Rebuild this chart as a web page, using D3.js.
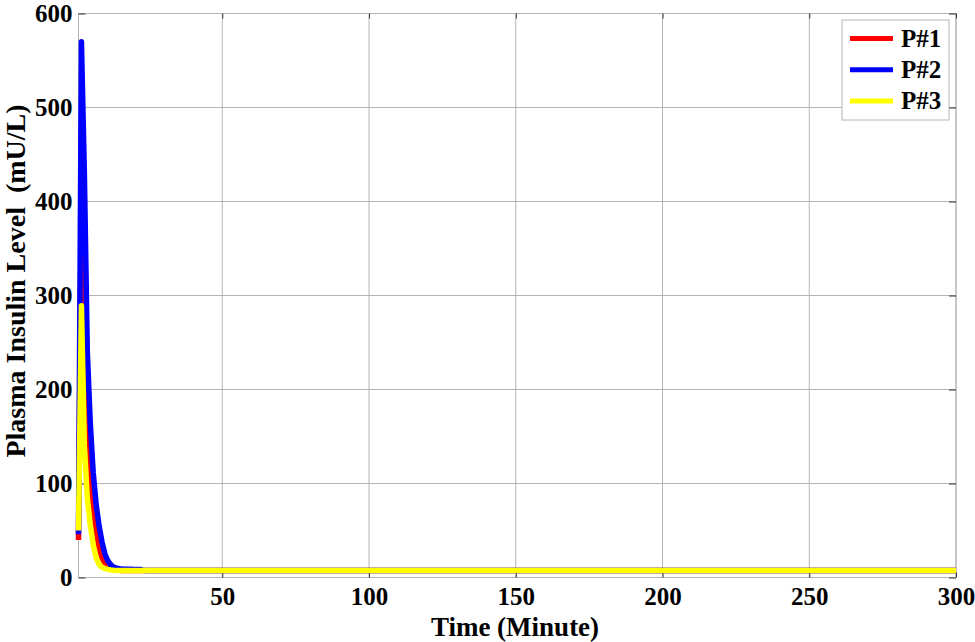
<!DOCTYPE html>
<html>
<head>
<meta charset="utf-8">
<script src="https://cdn.jsdelivr.net/npm/d3@7"></script>
<style>
  html, body { margin: 0; padding: 0; background: #fff; }
  svg { display: block; font-family: "Liberation Serif", "Times New Roman", serif; font-weight: bold; }
</style>
</head>
<body>
<svg id="chart" width="975" height="642"></svg>
<script>
// Time in minutes and plasma insulin for the three patients.
const timeMin = [1, 2, 3, 4, 5, 6, 7, 8, 9, 10, 11, 12, 13, 14, 15, 16, 17, 18, 19, 20, 21, 22, 23, 24, 25, 300];
const p1 = [40, 420, 240, 160, 108, 75, 50, 32, 21, 15, 11.5, 9.5, 8.5, 8, 7.7, 7.5, 7.5, 7.5, 7.5, 7.5, 7.5, 7.5, 7.5, 7.5, 7.5, 7.5];
const p2 = [46, 570, 430, 240, 165, 112, 78, 55, 38, 25, 17.5, 13.5, 11, 10, 9.4, 9.1, 8.9, 8.8, 8.7, 8.6, 8.6, 8.6, 7.6, 7.5, 7.5, 7.5];
const p3 = [50, 289, 140, 85, 56, 35, 21, 14, 11, 9.5, 8.6, 8, 7.7, 7.5, 7.5, 7.5, 7.5, 7.5, 7.5, 7.5, 7.5, 7.5, 7.5, 7.5, 7.5, 7.5];
const seriesNames = ["P#1", "P#2", "P#3"];
const seriesColors = ["#ff0000", "#0000ff", "#ffff00"];
const xTicks = [50, 100, 150, 200, 250, 300];
const yTicks = [0, 100, 200, 300, 400, 500, 600];

const svg = d3.select("#chart");
const plotL = 78.5, plotR = 956, plotT = 13.5, plotB = 577.5;

const x = d3.scaleLinear().domain([1, 300]).range([plotL, plotR]);
const y = d3.scaleLinear().domain([0, 600]).range([plotB, plotT]);

// Grid lines.
svg.append("g")
  .selectAll("line")
  .data(xTicks)
  .join("line")
  .attr("x1", (d) => x(d)).attr("x2", (d) => x(d))
  .attr("y1", plotT).attr("y2", plotB)
  .attr("stroke", "#b4b4b4").attr("stroke-width", 1);

svg.append("g")
  .selectAll("line")
  .data(yTicks)
  .join("line")
  .attr("x1", plotL).attr("x2", plotR)
  .attr("y1", (d) => y(d)).attr("y2", (d) => y(d))
  .attr("stroke", "#b4b4b4").attr("stroke-width", 1);

// Axis box.
svg.append("rect")
  .attr("x", plotL).attr("y", plotT)
  .attr("width", plotR - plotL).attr("height", plotB - plotT)
  .attr("fill", "none").attr("stroke", "#b4b4b4").attr("stroke-width", 1);

// Axes with labels, small inside ticks.
const xAxis = d3.axisBottom(x).tickValues(xTicks).tickSize(-5).tickPadding(10);
const yAxis = d3.axisLeft(y).tickValues(yTicks).tickSize(-7).tickPadding(6);

svg.append("g")
  .attr("transform", `translate(0,${plotB})`)
  .call(xAxis)
  .call((g) => g.select(".domain").remove())
  .call((g) => g.selectAll("line").attr("stroke", "#333"))
  .call((g) => g.selectAll("text").attr("font-size", 25).attr("fill", "#000"));

svg.append("g")
  .attr("transform", `translate(${plotL},0)`)
  .call(yAxis)
  .call((g) => g.select(".domain").remove())
  .call((g) => g.selectAll("line").attr("stroke", "#333"))
  .call((g) => g.selectAll("text").attr("font-size", 25).attr("fill", "#000"));

svg.selectAll("g").attr("font-family", null);

// Mirror ticks on top and right.
svg.append("g")
  .attr("transform", `translate(0,${plotT})`)
  .call(d3.axisTop(x).tickValues(xTicks).tickSize(-5).tickFormat(""))
  .call((g) => g.select(".domain").remove())
  .call((g) => g.selectAll("line").attr("stroke", "#333"));

svg.append("g")
  .attr("transform", `translate(${plotR},0)`)
  .call(d3.axisRight(y).tickValues(yTicks).tickSize(-7).tickFormat(""))
  .call((g) => g.select(".domain").remove())
  .call((g) => g.selectAll("line").attr("stroke", "#333"));

// Curves.
const line = d3.line()
  .x((d) => x(d[0]))
  .y((d) => y(d[1]));

[p1, p2, p3].forEach((vals, i) => {
  svg.append("path")
    .datum(timeMin.map((t, j) => [t, vals[j]]))
    .attr("d", line)
    .attr("fill", "none")
    .attr("stroke", seriesColors[i])
    .attr("stroke-width", 5.5)
    .attr("stroke-linejoin", "round");
});

// Axis titles.
svg.append("text")
  .attr("x", 515)
  .attr("y", 636)
  .attr("text-anchor", "middle")
  .attr("font-size", 27)
  .text("Time (Minute)");

svg.append("text")
  .attr("transform", `translate(25,281) rotate(-90)`)
  .attr("text-anchor", "middle")
  .attr("font-size", 28)
  .style("white-space", "pre")
  .text("Plasma Insulin Level  (mU/L)");

// Legend.
const legend = svg.append("g").attr("transform", "translate(842,20)");
legend.append("rect")
  .attr("width", 107).attr("height", 100)
  .attr("fill", "#fff").attr("stroke", "#b4b4b4");

seriesNames.forEach((name, i) => {
  const ly = 18.5 + i * 31.2;
  legend.append("line")
    .attr("x1", 8).attr("x2", 51)
    .attr("y1", ly).attr("y2", ly)
    .attr("stroke", seriesColors[i]).attr("stroke-width", 5);
  legend.append("text")
    .attr("x", 59).attr("y", ly + 8.5)
    .attr("font-size", 25)
    .text(name);
});
</script>
</body>
</html>
